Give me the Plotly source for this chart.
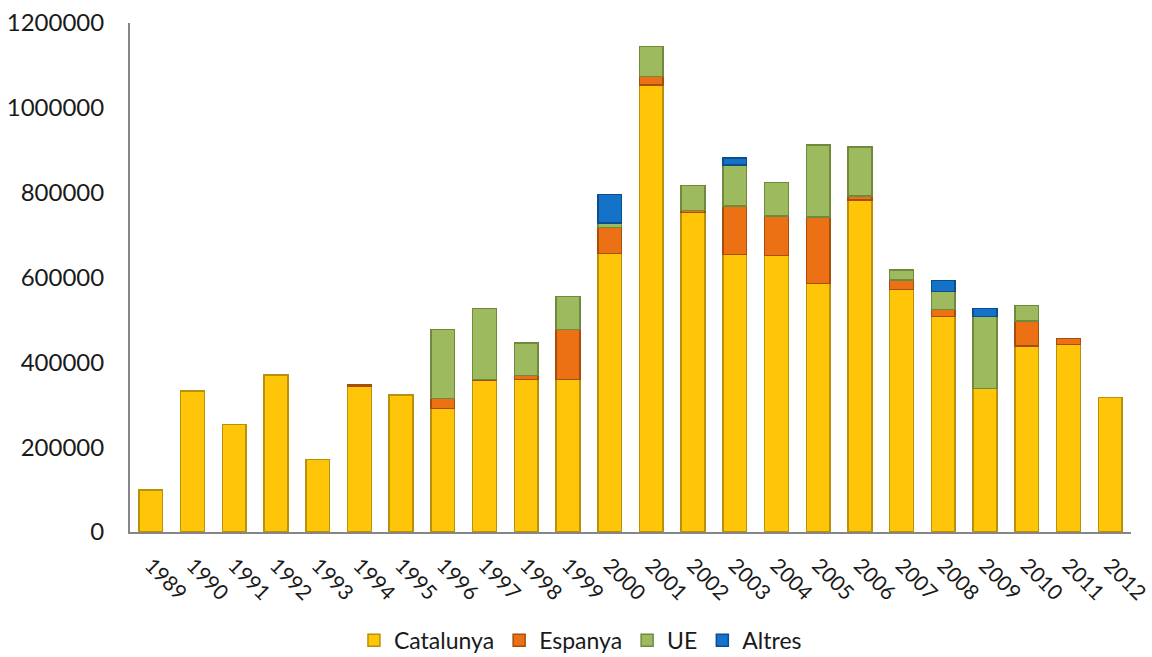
import plotly.graph_objects as go

years = [str(y) for y in range(1989, 2013)]

# None = no contribution that year (keeps empty segments from drawing an outline)
catalunya = [99000, 332000, 254000, 370000, 171000, 342500, 323000, 291600,
             358000, 360000, 360000, 657000, 1053700, 752800, 654600, 651400,
             586000, 782700, 572100, 507600, 338700, 438500, 442400, 316600]
espanya = [None, None, None, None, None, 4000, None, 23000,
           2000, 9000, 118000, 61000, 20000, 5000, 114000, 93500,
           157000, 10000, 22000, 17400, None, 59000, 14000, None]
ue = [None, None, None, None, None, None, None, 163000,
      167000, 77000, 77000, 11000, 71000, 59000, 97000, 79000,
      169000, 115000, 23500, 41500, 169000, 36000, None, None]
altres = [None, None, None, None, None, None, None, None,
          None, None, None, 67000, None, None, 16000, None,
          None, None, None, 26000, 19000, None, None, None]

series = [
    ("Catalunya", catalunya, "#FFC508", "#B8900A"),
    ("Espanya", espanya, "#EC7014", "#A84E0C"),
    ("UE", ue, "#9DBB5E", "#6F8A3C"),
    ("Altres", altres, "#1473C8", "#0B4E8C"),
]

font_family = "Lato, 'Open Sans', sans-serif"

fig = go.Figure()
for name, vals, fill, edge in series:
    fig.add_trace(go.Bar(
        name=name,
        x=years,
        y=vals,
        marker=dict(color=fill, line=dict(color=edge, width=1.5)),
    ))

fig.update_layout(
    barmode="stack",
    bargap=0.43,
    width=1152,
    height=657,
    margin=dict(l=130, r=21, t=23, b=125, autoexpand=False),
    paper_bgcolor="white",
    plot_bgcolor="white",
    font=dict(family=font_family, size=24, color="#1a1a1a"),
    legend=dict(
        orientation="h",
        x=0.45, xanchor="center",
        y=-0.255, yanchor="bottom",
        font=dict(size=23),
        traceorder="normal",
        itemwidth=30,
    ),
    xaxis=dict(
        type="category",
        tickangle=45,
        showline=True,
        linecolor="#868686",
        linewidth=2,
        showgrid=False,
        ticks="",
        ticklabelstandoff=11,
        ticklabelshift=0,
        tickfont=dict(size=21),
    ),
    yaxis=dict(
        range=[0, 1200000],
        dtick=200000,
        tickformat="d",
        showline=True,
        linecolor="#868686",
        linewidth=2,
        showgrid=False,
        zeroline=False,
        ticks="",
        ticklabelstandoff=19,
        tickfont=dict(size=24),
    ),
)

fig.write_html("out.html")
